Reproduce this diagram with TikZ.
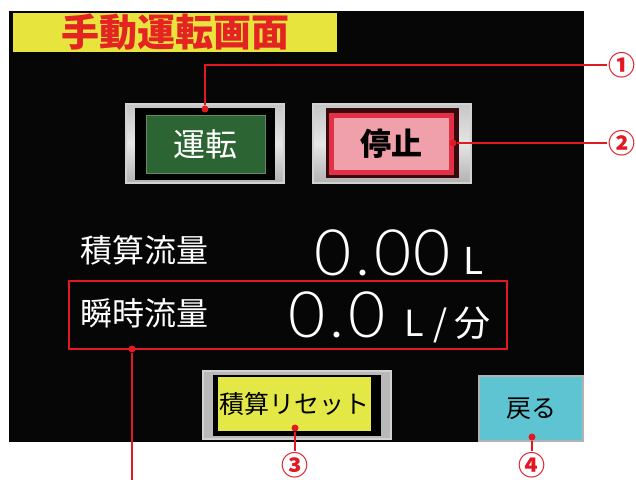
\documentclass[tikz,border=0pt]{standalone}
\usepackage{fontspec}
\setmainfont{Noto Sans CJK JP}
\newfontfamily\thinfont{Lato Light}
\newcommand{\fsz}[1]{\fontsize{#1pt}{#1pt}\selectfont}
\definecolor{callred}{RGB}{225,25,35}
\definecolor{titlered}{RGB}{228,35,35}
\definecolor{titleyellow}{RGB}{232,228,62}
\definecolor{scrblack}{RGB}{6,6,6}
\definecolor{rungreen}{RGB}{44,100,52}
\definecolor{stoppink}{RGB}{240,160,170}
\definecolor{glowred}{RGB}{228,48,70}
\definecolor{stopinset}{RGB}{55,10,14}
\definecolor{resetyellow}{RGB}{228,232,70}
\definecolor{backcyan}{RGB}{95,196,210}
\begin{document}
\begin{tikzpicture}[x=1pt,y=-1pt,
  box/.style={inner sep=0pt},
  frame/.style={box, draw=gray!35, line width=1.5pt, top color=gray!45, bottom color=gray!60, middle color=gray!20},
  scrtext/.style={text=white, inner sep=0pt, font=\fsz{32}},
  digits/.style={text=white, inner sep=0pt, font=\thinfont\fsz{64}},
  dot/.style={circle, fill=callred, inner sep=0pt, minimum size=7pt},
  lead/.style={callred, line width=2pt},
  num/.style={text=callred, inner sep=1pt, font=\fsz{27}\bfseries}]
\useasboundingbox (0,0) rectangle (636,479);
\fill[white] (0,0) rectangle (636,479);
\node[box, fill=scrblack, minimum width=575pt, minimum height=431pt] (screen) at (296.5,226.5) {};

\node[box, fill=titleyellow, minimum width=324pt, minimum height=39pt, text=titlered, font=\fsz{38}\bfseries] (title) at (175,32.5) {手動運転画面};

\node[frame, minimum width=158pt, minimum height=79pt] (runframe) at (205,143.5) {};
\node[box, fill=black, minimum width=140pt, minimum height=72pt] (runinset) at (205,144) {};
\node[box, fill=rungreen, draw=rungreen!75!white, minimum width=119pt, minimum height=58pt, text=white, font=\fsz{32}] (run) at (205.5,144) {運転};

\node[frame, minimum width=158pt, minimum height=79pt] (stopframe) at (392,143.5) {};
\node[box, fill=stopinset, minimum width=133pt, minimum height=70pt] (stopinset) at (392.5,143) {};
\node[box, fill=stoppink, draw=glowred, line width=5pt, minimum width=120pt, minimum height=57pt, font=\fsz{31}\bfseries] (stop) at (391.5,144) {停止};

\node[scrtext, anchor=west] (sumname) at (80,250) {積算流量};
\node[digits, anchor=base east] (sumval) at (451,275) {0\kern4pt.\kern4pt0\kern2pt0};
\node[scrtext, font=\fsz{37}, anchor=base west] (sumunit) at (463,274) {L};
\node[scrtext, anchor=west] (ratename) at (80,313) {瞬時流量};
\node[digits, anchor=base east] (rateval) at (386,337) {0\kern4pt.\kern4pt0};
\node[scrtext, font=\fsz{36}, anchor=base west] (rateunit) at (404,336) {L\hspace{10pt}/\hspace{7pt}分};
\node[box, draw=callred, line width=2.5pt, minimum width=438pt, minimum height=68pt] (ratebox) at (288,315) {};

\node[box, fill=gray!55, draw=gray!35, line width=1.5pt, minimum width=188pt, minimum height=68pt] (resetframe) at (297,405) {};
\node[box, fill=black, minimum width=168pt, minimum height=61pt] (resetinset) at (297,405.5) {};
\node[box, fill=resetyellow, minimum width=153pt, minimum height=54pt, font=\fsz{25}] (reset) at (294.5,404) {積算リセット};

\node[box, fill=backcyan, draw=gray!60, line width=2pt, minimum width=104pt, minimum height=65pt, font=\fsz{25}] (back) at (531,408.5) {戻る};

\node[dot] (dotrun) at (205,109) {};
\node[num] (n1) at (622,65) {①};
\path[draw,lead] (dotrun) |- (n1);
\node[dot] (dotstop) at (453,143) {};
\node[num] (n2) at (622,143) {②};
\path[draw,lead] (dotstop) -- (n2);
\node[dot] (dotrate) at (132,349) {};
\coordinate (rateend) at (132,490);
\path[draw,lead] (dotrate) -- (rateend);
\node[dot] (dotreset) at (295,428) {};
\node[num] (n3) at (295,465) {③};
\path[draw,lead] (dotreset) -- (n3);
\node[dot] (dotback) at (532,437) {};
\node[num] (n4) at (532,465) {④};
\path[draw,lead] (dotback) -- (n4);
\end{tikzpicture}
\end{document}
